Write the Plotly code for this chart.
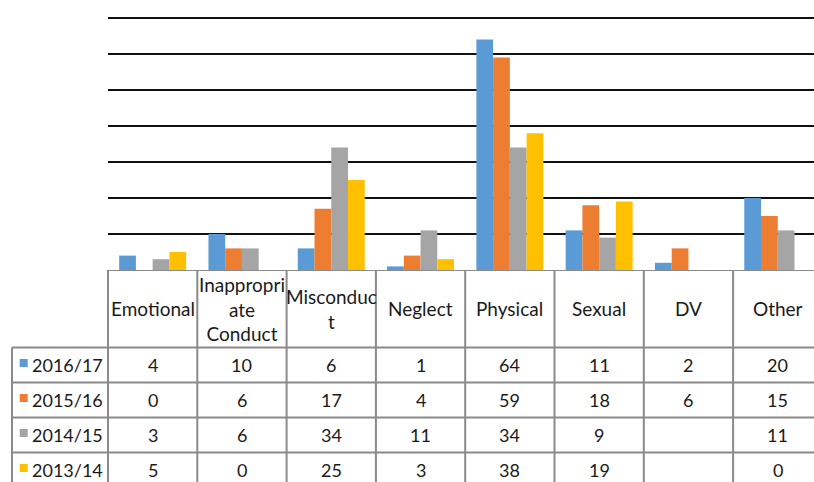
import plotly.graph_objects as go

# ---------------- data ----------------
categories = ["Emotional", "Inappropriate Conduct", "Misconduct", "Neglect",
              "Physical", "Sexual", "DV", "Other"]
header_labels = ["Emotional", "Inappropri<br>ate<br>Conduct", "Misconduc<br>t", "Neglect",
                 "Physical", "Sexual", "DV", "Other"]
series_names = ["2016/17", "2015/16", "2014/15", "2013/14"]
v_2016_17 = [4, 10, 6, 1, 64, 11, 2, 20]
v_2015_16 = [0, 6, 17, 4, 59, 18, 6, 15]
v_2014_15 = [3, 6, 34, 11, 34, 9, None, 11]
v_2013_14 = [5, 0, 25, 3, 38, 19, None, 0]
y_ticks = [10, 20, 30, 40, 50, 60, 70]

series_values = [v_2016_17, v_2015_16, v_2014_15, v_2013_14]
colors = ["#5B9BD5", "#ED7D31", "#A5A5A5", "#FFC000"]

# ---------------- layout geometry ----------------
W, H = 814, 482
PX = 89.3                      # pixels per category column
PLOT_LEFT = 108                # left edge of plot/table value columns (px)
BASE = 270                     # baseline from top (px)
TOP = 18                       # top gridline (value 70) from top (px)
Y_MAX = 70
Y_PAD = 0.3
px_per_unit = (BASE - TOP) / Y_MAX
x_hi = -0.5 + (W - PLOT_LEFT) / PX
x_lo_tab = -0.5 - PLOT_LEFT / PX
x_lab = x_lo_tab + 12 / PX     # left edge of row-label column
table_h = H - BASE
header_h = 77.5
row_h = 35.0

FONT = "Lato"
FS_HEAD = 19
FS_NUM = 18
TXT = "#1a1a1a"
LINE = "#8a8a8a"

fig = go.Figure()
xs = list(range(len(categories)))
for name, vals, col in zip(series_names, series_values, colors):
    fig.add_trace(go.Bar(x=xs, y=vals, name=name, marker=dict(color=col, line=dict(width=0)),
                         xaxis="x", yaxis="y", showlegend=False))

# legend keys in table
for i, col in enumerate(colors):
    fig.add_trace(go.Scatter(x=[x_lab + 11.7 / PX], y=[header_h + (i + 0.5) * row_h - 2],
                             mode="markers", marker=dict(symbol="square", size=8, color=col),
                             xaxis="x2", yaxis="y2", showlegend=False, hoverinfo="skip"))

shapes = []
shapes.append(dict(type="line", xref="x2", yref="y2", x0=-0.5, x1=x_hi + 1, y0=0, y1=0,
                   line=dict(color=LINE, width=2)))
for k in range(len(series_names)):
    y = header_h + k * row_h
    shapes.append(dict(type="line", xref="x2", yref="y2", x0=x_lab, x1=x_hi + 1, y0=y, y1=y,
                       line=dict(color=LINE, width=2)))
for k in range(len(categories) + 1):
    shapes.append(dict(type="line", xref="x2", yref="y2", x0=-0.5 + k, x1=-0.5 + k,
                       y0=0, y1=table_h + 10, line=dict(color=LINE, width=2)))
shapes.append(dict(type="line", xref="x2", yref="y2", x0=x_lab, x1=x_lab,
                   y0=header_h, y1=table_h + 10, line=dict(color=LINE, width=2)))

annotations = []
for k, lab in enumerate(header_labels):
    annotations.append(dict(x=k, y=header_h / 2, xref="x2", yref="y2", text=lab,
                            showarrow=False, xanchor="center", yanchor="middle",
                            font=dict(family=FONT, size=FS_HEAD, color=TXT)))
for i, (name, vals) in enumerate(zip(series_names, series_values)):
    yc = header_h + (i + 0.5) * row_h
    annotations.append(dict(x=x_lab + 18 / PX, y=yc, xref="x2", yref="y2", text=name,
                            showarrow=False, xanchor="left", yanchor="middle",
                            font=dict(family=FONT, size=FS_NUM, color=TXT)))
    for k, v in enumerate(vals):
        if v is None:
            continue
        annotations.append(dict(x=k, y=yc, xref="x2", yref="y2", text=str(v),
                                showarrow=False, xanchor="center", yanchor="middle",
                                font=dict(family=FONT, size=FS_NUM, color=TXT)))

fig.update_layout(
    width=W, height=H,
    margin=dict(l=0, r=0, t=0, b=0, pad=0),
    paper_bgcolor="white", plot_bgcolor="white",
    barmode="group", bargap=0.25, bargroupgap=0,
    xaxis=dict(domain=[PLOT_LEFT / W, 1], range=[-0.5, x_hi], showgrid=False,
               zeroline=False, showticklabels=False, ticks="", showline=False),
    yaxis=dict(domain=[1 - BASE / H, 1 - (TOP - Y_PAD * px_per_unit) / H],
               range=[0, Y_MAX + Y_PAD], tickmode="array",
               tickvals=y_ticks, showgrid=True, gridcolor="#111111", gridwidth=2,
               zeroline=False, showticklabels=False, ticks="", showline=False),
    xaxis2=dict(domain=[0, 1], range=[x_lo_tab, x_hi], showgrid=False, zeroline=False,
                showticklabels=False, ticks="", showline=False, anchor="y2"),
    yaxis2=dict(domain=[0, 1 - BASE / H], range=[table_h, 0], showgrid=False, zeroline=False,
                showticklabels=False, ticks="", showline=False, anchor="x2"),
    shapes=shapes, annotations=annotations,
    font=dict(family=FONT, color=TXT),
)

fig.write_html("out.html", config={"displayModeBar": False},
               post_script="document.body.style.margin='0';document.body.style.overflow='hidden';")
